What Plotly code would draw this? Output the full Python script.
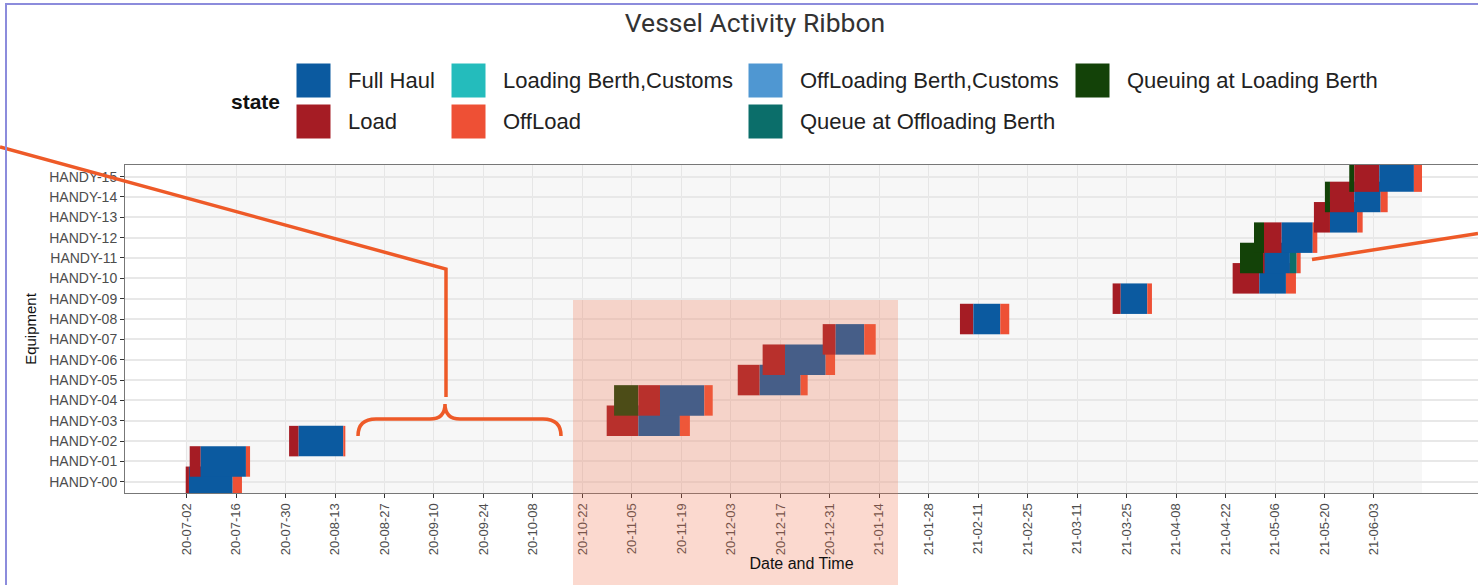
import pandas as pd
import plotly.graph_objects as go


FONT = "Liberation Sans, Arial, sans-serif"
STATE_COLORS = {
    "Full Haul": "#0b5aa0",
    "Load": "#a51c24",
    "Loading Berth,Customs": "#24bcbc",
    "OffLoad": "#ee5035",
    "OffLoading Berth,Customs": "#4f97d2",
    "Queue at Offloading Berth": "#0b6e6a",
    "Queuing at Loading Berth": "#134208",
}
EQUIPMENT = [f"HANDY-{i:02d}" for i in range(16)]

# one row per activity segment
segment_equipment = [
    "HANDY-00", "HANDY-00", "HANDY-00",
    "HANDY-01", "HANDY-01", "HANDY-01",
    "HANDY-02", "HANDY-02", "HANDY-02",
    "HANDY-03", "HANDY-03", "HANDY-03",
    "HANDY-04", "HANDY-04", "HANDY-04", "HANDY-04",
    "HANDY-05", "HANDY-05", "HANDY-05",
    "HANDY-06", "HANDY-06", "HANDY-06",
    "HANDY-07", "HANDY-07", "HANDY-07",
    "HANDY-08", "HANDY-08", "HANDY-08",
    "HANDY-09", "HANDY-09", "HANDY-09",
    "HANDY-10", "HANDY-10", "HANDY-10",
    "HANDY-11", "HANDY-11", "HANDY-11", "HANDY-11", "HANDY-11",
    "HANDY-12", "HANDY-12", "HANDY-12", "HANDY-12",
    "HANDY-13", "HANDY-13", "HANDY-13",
    "HANDY-14", "HANDY-14", "HANDY-14", "HANDY-14",
    "HANDY-15", "HANDY-15", "HANDY-15", "HANDY-15",
]
segment_state = [
    "Load", "Full Haul", "OffLoad",
    "Load", "Full Haul", "OffLoad",
    "Load", "Full Haul", "OffLoad",
    "Load", "Full Haul", "OffLoad",
    "Queuing at Loading Berth", "Load", "Full Haul", "OffLoad",
    "Load", "Full Haul", "OffLoad",
    "Load", "Full Haul", "OffLoad",
    "Load", "Full Haul", "OffLoad",
    "Load", "Full Haul", "OffLoad",
    "Load", "Full Haul", "OffLoad",
    "Load", "Full Haul", "OffLoad",
    "Queuing at Loading Berth", "Load", "Full Haul", "Queue at Offloading Berth", "OffLoad",
    "Queuing at Loading Berth", "Load", "Full Haul", "OffLoad",
    "Load", "Full Haul", "OffLoad",
    "Queuing at Loading Berth", "Load", "Full Haul", "OffLoad",
    "Queuing at Loading Berth", "Load", "Full Haul", "OffLoad",
]
segment_start = [
    "2020-07-01 18:00", "2020-07-02 16:00", "2020-07-15 01:00",
    "2020-07-02 21:00", "2020-07-06 00:00", "2020-07-18 19:00",
    "2020-07-31 00:00", "2020-08-02 17:00", "2020-08-15 08:00",
    "2020-10-28 21:00", "2020-11-06 20:00", "2020-11-18 14:00",
    "2020-10-30 23:00", "2020-11-06 20:00", "2020-11-12 23:00", "2020-11-25 12:00",
    "2020-12-04 23:00", "2020-12-11 04:00", "2020-12-22 18:00",
    "2020-12-12 00:00", "2020-12-18 08:00", "2020-12-29 20:00",
    "2020-12-29 00:00", "2021-01-01 16:00", "2021-01-09 18:00",
    "2021-02-05 20:00", "2021-02-09 15:00", "2021-02-17 06:00",
    "2021-03-21 01:00", "2021-03-23 08:00", "2021-03-30 20:00",
    "2021-04-24 00:00", "2021-05-01 13:00", "2021-05-09 02:00",
    "2021-04-26 02:00", "2021-05-02 16:00", "2021-05-03 01:00", "2021-05-10 05:00", "2021-05-12 03:00",
    "2021-04-30 01:00", "2021-05-02 21:00", "2021-05-07 21:00", "2021-05-16 16:00",
    "2021-05-17 00:00", "2021-05-21 13:00", "2021-05-29 06:00",
    "2021-05-20 03:00", "2021-05-21 13:00", "2021-05-28 10:00", "2021-06-04 21:00",
    "2021-05-27 00:00", "2021-05-28 10:00", "2021-06-04 12:00", "2021-06-14 07:00",
]
segment_end = [
    "2020-07-02 16:00", "2020-07-15 01:00", "2020-07-17 16:00",
    "2020-07-06 00:00", "2020-07-18 19:00", "2020-07-19 23:00",
    "2020-08-02 17:00", "2020-08-15 08:00", "2020-08-15 22:00",
    "2020-11-06 20:00", "2020-11-18 14:00", "2020-11-21 10:00",
    "2020-11-06 20:00", "2020-11-12 23:00", "2020-11-25 12:00", "2020-11-27 21:00",
    "2020-12-11 04:00", "2020-12-22 18:00", "2020-12-24 18:00",
    "2020-12-18 08:00", "2020-12-29 20:00", "2021-01-01 12:00",
    "2021-01-01 16:00", "2021-01-09 18:00", "2021-01-13 00:00",
    "2021-02-09 15:00", "2021-02-17 06:00", "2021-02-19 19:00",
    "2021-03-23 08:00", "2021-03-30 20:00", "2021-04-01 04:00",
    "2021-05-01 13:00", "2021-05-09 02:00", "2021-05-11 22:00",
    "2021-05-02 16:00", "2021-05-03 01:00", "2021-05-10 05:00", "2021-05-12 03:00", "2021-05-13 06:00",
    "2021-05-02 21:00", "2021-05-07 21:00", "2021-05-16 16:00", "2021-05-17 23:00",
    "2021-05-21 13:00", "2021-05-29 06:00", "2021-05-30 19:00",
    "2021-05-21 13:00", "2021-05-28 10:00", "2021-06-04 21:00", "2021-06-06 21:00",
    "2021-05-28 10:00", "2021-06-04 12:00", "2021-06-14 07:00", "2021-06-16 14:00",
]
x_tick_dates = pd.date_range("2020-07-02", "2021-06-03", freq="14D")
x_range = ["2020-06-14 13:40", "2021-07-02 10:20"]

# pixel frame of the panel, used for the overlay drawing
L, R, T, B = 125, 1478, 165, 493


def px_x(x):
    return (x - L) / (R - L)


def px_y(y):
    return (B - y) / (B - T)


def path(points):
    s = ""
    for cmd, pts in points:
        s += cmd + " " + " ".join(f"{px_x(a):.5f},{px_y(b):.5f}" for a, b in pts) + " "
    return s.strip()


df = pd.DataFrame({
    "equipment": segment_equipment,
    "state": segment_state,
    "start": pd.to_datetime(segment_start),
    "end": pd.to_datetime(segment_end),
})
df["duration"] = (df["end"] - df["start"]).dt.total_seconds() * 1000

fig = go.Figure()

for eq in EQUIPMENT:
    d = df[df["equipment"] == eq]
    if d.empty:
        continue
    fig.add_trace(go.Bar(
        y=d["equipment"],
        x=d["duration"],
        base=d["start"].dt.strftime("%Y-%m-%d %H:%M"),
        orientation="h",
        width=1.5,
        marker=dict(color=d["state"].map(STATE_COLORS).tolist(), line_width=0),
        name=eq,
        showlegend=False,
    ))

shapes = []
# shaded area where the daily minor grid is drawn
shapes.append(dict(
    type="rect", xref="x", yref="paper", layer="below",
    x0=df["start"].min(), x1=df["end"].max(), y0=0, y1=1,
    fillcolor="#f7f7f7", line_width=0,
))

# legend (ggplot style, column-major)
states = list(STATE_COLORS)
col_x = [296, 451, 748, 1075]
row_y = [63, 104]
annotations = [dict(
    text="<b>state</b>", x=px_x(255), y=px_y(101), xref="paper", yref="paper",
    xanchor="center", yanchor="middle",
    showarrow=False, font=dict(family=FONT, size=21, color="#111"),
)]
for i, s in enumerate(states):
    cx, ry = col_x[i // 2], row_y[i % 2]
    shapes.append(dict(
        type="rect", xref="paper", yref="paper",
        x0=px_x(cx), x1=px_x(cx + 35), y0=px_y(ry), y1=px_y(ry + 35),
        fillcolor=STATE_COLORS[s], line=dict(color="#ffffff", width=1),
    ))
    annotations.append(dict(
        text=s, x=px_x(cx + 50), y=px_y(ry + 17.5), xref="paper", yref="paper",
        xanchor="left", yanchor="middle", showarrow=False,
        font=dict(family=FONT, size=22, color="#222"),
    ))

# highlight box and callout marks drawn over the chart
ORANGE = "#ee5a28"
shapes.append(dict(
    type="rect", xref="paper", yref="paper", layer="above",
    x0=px_x(573), x1=px_x(898), y0=px_y(300), y1=px_y(585),
    fillcolor="rgba(238,110,70,0.26)", line_width=0,
))
shapes.append(dict(
    type="path", xref="paper", yref="paper", layer="above",
    path=path([("M", [(0, 147)]), ("L", [(446, 269)]), ("L", [(446, 397)])]),
    line=dict(color=ORANGE, width=3.5),
))
shapes.append(dict(
    type="path", xref="paper", yref="paper", layer="above",
    path=path([
        ("M", [(358, 436)]),
        ("Q", [(358, 419), (376, 419)]),
        ("L", [(430, 419)]),
        ("Q", [(445, 419), (445, 404)]),
        ("Q", [(445, 419), (460, 419)]),
        ("L", [(543, 419)]),
        ("Q", [(561, 419), (561, 436)]),
    ]),
    line=dict(color=ORANGE, width=3.5),
))
shapes.append(dict(
    type="line", xref="paper", yref="paper", layer="above",
    x0=px_x(1312), y0=px_y(259.5), x1=px_x(1478), y1=px_y(233.5),
    line=dict(color=ORANGE, width=3.5),
))
# outer frame of the screenshot
shapes.append(dict(
    type="path", xref="paper", yref="paper", layer="above",
    path=path([("M", [(6, 585)]), ("L", [(6, 4)]), ("L", [(1478, 4)])]),
    line=dict(color="#8c8cdc", width=2),
))

fig.update_layout(
    width=1478,
    height=585,
    barmode="overlay",
    paper_bgcolor="white",
    plot_bgcolor="white",
    margin=dict(l=L, r=1478 - R, t=T, b=585 - B, autoexpand=False),
    font=dict(family=FONT, size=13, color="#4d4d4d"),
    title=dict(
        text="Vessel Activity Ribbon", xref="container", yref="container",
        x=755 / 1478, xanchor="center", y=1 - 23 / 585, yanchor="middle",
        font=dict(family="Roboto, sans-serif", size=26.5, color="#333"),
    ),
    shapes=shapes,
    annotations=annotations,
    showlegend=False,
)
fig.update_xaxes(
    type="date",
    range=x_range,
    tickvals=x_tick_dates,
    ticktext=[t.strftime("%y-%m-%d") for t in x_tick_dates],
    tickangle=-90,
    ticks="outside",
    ticklen=4,
    tickcolor="#333",
    tickfont=dict(size=13, color="#4d4d4d"),
    showgrid=True,
    gridcolor="#e6e6e6",
    gridwidth=1,
    zeroline=False,
    showline=True,
    mirror=True,
    linecolor="#777",
    linewidth=1,
    title=dict(text="Date and Time", standoff=3, font=dict(size=16, color="#111")),
)
fig.update_yaxes(
    type="category",
    categoryorder="array",
    categoryarray=EQUIPMENT,
    range=[-0.55, 15.57],
    ticks="outside",
    ticklen=4,
    tickcolor="#333",
    tickfont=dict(size=14, color="#4d4d4d"),
    showgrid=True,
    gridcolor="#e8e8e8",
    gridwidth=1.5,
    zeroline=False,
    showline=True,
    linecolor="#777",
    linewidth=1,
    title=dict(text="Equipment", standoff=8, font=dict(size=15, color="#111")),
)

# the page has a default body margin; drop it so the figure fills the window
fig.write_html(
    "out.html",
    config={"displayModeBar": False},
    post_script="document.body.style.margin='0';",
)
